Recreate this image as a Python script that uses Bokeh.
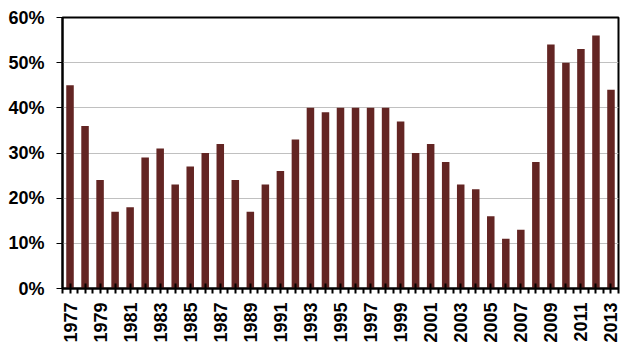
from bokeh.plotting import figure
from bokeh.models import ColumnDataSource, FixedTicker, Range1d, PrintfTickFormatter
from bokeh.embed import file_html
from bokeh.resources import INLINE
import math

years = list(range(1977, 2014))
values = [45, 36, 24, 17, 18, 29, 31, 23, 27, 30, 32, 24, 17, 23, 26, 33, 40, 39,
          40, 40, 40, 40, 37, 30, 32, 28, 23, 22, 16, 11, 13, 28, 54, 50, 53, 56, 44]
y_ticks = [0, 10, 20, 30, 40, 50, 60]

xs = [i + 0.5 for i in range(len(years))]
src = ColumnDataSource(dict(x=xs, top=values, year=[str(y) for y in years]))

p = figure(width=623, height=351, output_backend="svg", toolbar_location=None,
           x_range=Range1d(0, len(years)), y_range=Range1d(0, 60))
p.min_border_left = 62
p.min_border_top = 17
p.min_border_right = 5
p.min_border_bottom = 63

p.vbar(x="x", top="top", width=0.5, bottom=0, source=src,
       fill_color="#632523", line_color=None)

p.outline_line_color = "black"
p.outline_line_width = 2
p.outline_line_alpha = 1
p.xgrid.visible = False
p.ygrid.grid_line_color = "#c0c0c0"
p.ygrid.grid_line_width = 1
p.ygrid.ticker = FixedTicker(ticks=y_ticks)

font = "Liberation Sans"

xa = p.xaxis[0]
xa.ticker = FixedTicker(ticks=xs, minor_ticks=list(range(len(years) + 1)))
xa.major_label_overrides = {x: (str(y) if y % 2 == 1 else "") for x, y in zip(xs, years)}
xa.major_label_orientation = math.pi / 2
xa.major_label_text_font = font
xa.major_label_text_font_style = "bold"
xa.major_label_text_font_size = "18px"
xa.major_label_text_color = "black"
xa.major_label_standoff = 9
xa.axis_line_color = "black"
xa.axis_line_width = 2
xa.major_tick_in = 5
xa.major_tick_out = 5
xa.major_tick_line_width = 2
xa.major_tick_line_color = "black"
xa.minor_tick_in = 0
xa.minor_tick_out = 5
xa.minor_tick_line_width = 2
xa.minor_tick_line_color = "black"

ya = p.yaxis[0]
ya.ticker = FixedTicker(ticks=y_ticks)
ya.formatter = PrintfTickFormatter(format="%d%%")
ya.major_label_text_font = font
ya.major_label_text_font_style = "bold"
ya.major_label_text_font_size = "18px"
ya.major_label_text_color = "black"
ya.major_label_standoff = 12
ya.axis_line_color = "black"
ya.axis_line_width = 2
ya.major_tick_in = 0
ya.major_tick_out = 6
ya.major_tick_line_width = 1
ya.major_tick_line_color = "black"
ya.minor_tick_line_color = None

open("out.html", "w").write(file_html(p, INLINE))
